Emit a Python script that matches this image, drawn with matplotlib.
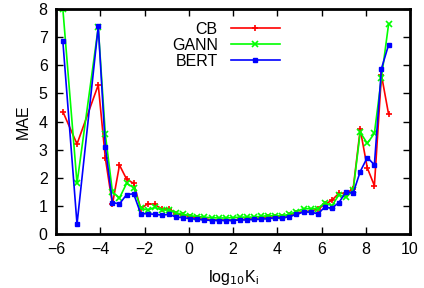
import matplotlib
matplotlib.use('Agg')
import matplotlib.pyplot as plt

plt.rcParams['font.family'] = ['Liberation Sans', 'DejaVu Sans']
plt.rcParams['font.size'] = 11.5

# log10 K_i positions
logk = [-5.69, -5.05, -4.09, -3.77, -3.45, -3.13, -2.81, -2.49, -2.17, -1.85,
        -1.53, -1.21, -0.89, -0.57, -0.25, 0.07, 0.39, 0.71, 1.03, 1.35,
        1.67, 1.99, 2.31, 2.63, 2.95, 3.27, 3.59, 3.91, 4.23, 4.55,
        4.87, 5.19, 5.51, 5.83, 6.15, 6.47, 6.79, 7.11, 7.43, 7.75,
        8.07, 8.39, 8.71, 9.03]

cb = [4.35, 3.2, 5.3, 2.7, 1.05, 2.45, 1.95, 1.8, 0.9, 1.08,
      1.05, 0.88, 0.9, 0.72, 0.68, 0.62, 0.58, 0.55, 0.5, 0.5,
      0.5, 0.5, 0.52, 0.52, 0.55, 0.57, 0.6, 0.6, 0.62, 0.68,
      0.75, 0.8, 0.82, 0.88, 1.05, 1.2, 1.45, 1.45, 1.6, 3.72,
      2.35, 1.72, 5.65, 4.27]

gann = [8.0, 1.8, 7.35, 3.55, 1.5, 1.28, 1.8, 1.65, 0.92, 0.85,
        0.95, 0.85, 0.85, 0.75, 0.7, 0.65, 0.62, 0.6, 0.58, 0.57,
        0.57, 0.58, 0.6, 0.6, 0.6, 0.63, 0.65, 0.65, 0.65, 0.7,
        0.8, 0.9, 0.9, 0.9, 1.12, 1.0, 1.4, 1.3, 1.55, 3.62,
        3.22, 3.58, 5.55, 7.45]

bert = [6.85, 0.35, 7.38, 3.1, 1.12, 1.07, 1.4, 1.43, 0.72, 0.72,
        0.7, 0.67, 0.7, 0.6, 0.58, 0.55, 0.52, 0.5, 0.48, 0.48,
        0.48, 0.48, 0.5, 0.5, 0.52, 0.52, 0.55, 0.57, 0.57, 0.62,
        0.7, 0.78, 0.78, 0.72, 0.95, 0.92, 1.12, 1.5, 1.45, 2.22,
        2.72, 2.46, 5.88, 6.72]

xticks = [-6, -4, -2, 0, 2, 4, 6, 8, 10]
yticks = [0, 1, 2, 3, 4, 5, 6, 7, 8]

fig = plt.figure(figsize=(4.24, 2.88), dpi=100)
ax = fig.add_axes([56/424, 54/288, 354/424, 225/288])

ax.plot(logk, cb, color='#ff0000', marker='+', markersize=5, linewidth=1.2,
        markeredgewidth=1.2, label='CB')
ax.plot(logk, gann, color='#00ff00', marker='x', markersize=4, linewidth=1.2,
        markeredgewidth=1.2, label='GANN')
ax.plot(logk, bert, color='#0000ff', marker='s', markersize=3.5, linewidth=1.2,
        label='BERT')

ax.set_xlim(-6, 10)
ax.set_ylim(0, 8)
ax.set_xticks(xticks)
ax.set_yticks(yticks)
ax.tick_params(direction='in', length=5, width=1, top=True, right=True,
               labelsize=11.5, pad=6)
for s in ax.spines.values():
    s.set_linewidth(2)

ax.set_xlabel('log$_{10}$K$_{\\mathregular{i}}$', labelpad=8)
ax.set_ylabel('MAE', labelpad=6)

ax.legend(loc='upper right', bbox_to_anchor=(0.66, 0.985), markerfirst=False,
          frameon=False, numpoints=1, handlelength=3.1, handletextpad=0.8,
          labelspacing=0.05, borderaxespad=0.2, fontsize=11.5)

fig.savefig('out.png', dpi=100)
